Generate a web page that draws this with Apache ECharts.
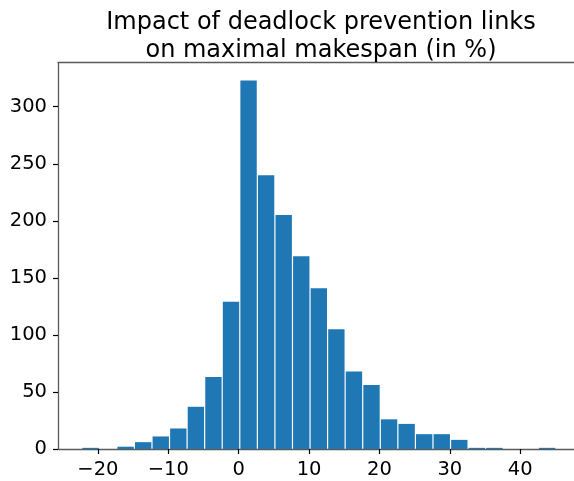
<!DOCTYPE html>
<html>
<head>
<meta charset="utf-8">
<script src="https://cdn.jsdelivr.net/npm/echarts@6/dist/echarts.min.js"></script>
<style>html,body{margin:0;padding:0;background:#fff;}#c{width:574px;height:481px;}</style>
</head>
<body>
<div id="c"></div>
<script>
const titleLines = ['Impact of deadlock prevention links', 'on maximal makespan (in %)'];
const binStart = -22.3;
const binWidth = 2.495;
const counts = [1, 0, 2, 6, 11, 18, 37, 63, 129, 323, 240, 205, 169, 141, 105, 68, 56, 26, 22, 13, 13, 8, 1, 1, 0, 0, 1];
const xTicks = [-20, -10, 0, 10, 20, 30, 40];
const yTicks = [0, 50, 100, 150, 200, 250, 300];

const data = counts.map((c, i) => [binStart + i * binWidth, binStart + (i + 1) * binWidth, c]);
const fontFam = 'DejaVu Sans';
const chart = echarts.init(document.getElementById('c'), null, {renderer: 'canvas'});
const axisLineStyle = {color: '#5a5a5a', width: 1.3};
chart.setOption({
  animation: false,
  backgroundColor: '#fff',
  title: {
    text: titleLines.join('\n'),
    left: 316, top: 3, textAlign: 'center',
    textStyle: {fontFamily: fontFam, fontSize: 24, fontWeight: 'normal', color: '#000', lineHeight: 28.8}
  },
  grid: {left: 58, top: 62.7, width: 521.6, height: 386.3, containLabel: false, outerBoundsMode: 'none'},
  xAxis: [{
    type: 'value', min: -25.67, max: 48.43, position: 'bottom',
    axisLine: {show: true, onZero: false, lineStyle: axisLineStyle},
    axisTick: {show: true, inside: false, length: 5, customValues: xTicks, lineStyle: {color: '#000', width: 1.2}},
    axisLabel: {customValues: xTicks, fontFamily: fontFam, fontSize: 19.5, color: '#000', margin: 11,
      formatter: v => (v < 0 ? '\u2212' + Math.abs(v) : String(v))},
    splitLine: {show: false}
  }, {
    type: 'value', min: -25.67, max: 48.43, position: 'top',
    axisLine: {show: true, onZero: false, lineStyle: axisLineStyle},
    axisTick: {show: false}, axisLabel: {show: false}, splitLine: {show: false}
  }],
  yAxis: {
    type: 'value', min: 0, max: 338.6,
    axisLine: {show: true, onZero: false, lineStyle: axisLineStyle},
    axisTick: {show: true, inside: false, length: 5, customValues: yTicks, lineStyle: {color: '#000', width: 1.2}},
    axisLabel: {customValues: yTicks, fontFamily: fontFam, fontSize: 19.5, color: '#000', margin: 11},
    splitLine: {show: false}
  },
  series: [{
    type: 'custom',
    xAxisIndex: 0,
    data: data,
    encode: {x: [0, 1], y: 2},
    renderItem: function (params, api) {
      const p0 = api.coord([api.value(0), 0]);
      const p1 = api.coord([api.value(1), api.value(2)]);
      return {
        type: 'rect',
        shape: {x: p0[0] + 0.6, y: p1[1], width: p1[0] - p0[0] - 1.2, height: p0[1] - p1[1]},
        style: {fill: '#1f77b4'}
      };
    }
  }]
});
</script>
</body>
</html>
